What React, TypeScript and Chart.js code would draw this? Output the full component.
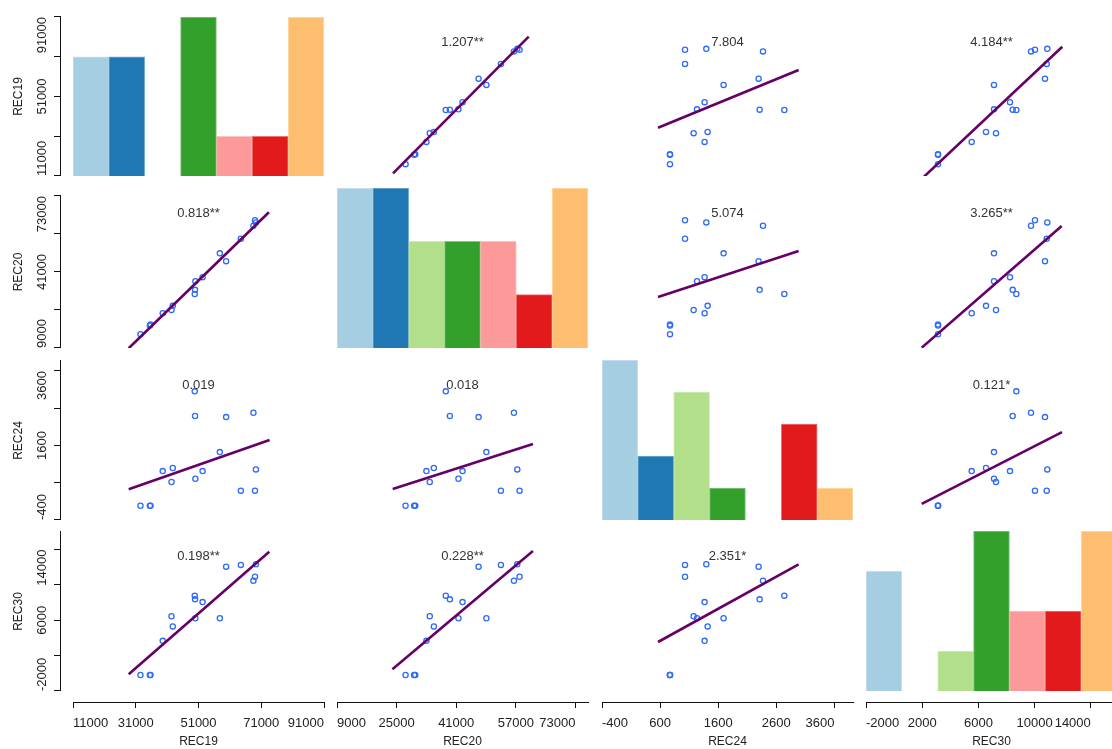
import React, { useEffect, useRef } from 'react';
import { Chart, registerables } from 'chart.js';

Chart.register(...registerables);

const FONT = '"Liberation Sans", Arial, Helvetica, sans-serif';
const TEXT_COLOR = '#222222';
const AXIS_COLOR = '#111111';
const LINE_COLOR = '#660066';
const POINT_COLOR = '#2F6BF5';

// ---- variable names ----
const VAR_NAMES = ['REC19', 'REC20', 'REC24', 'REC30'];

const REC19 = [32500, 35500, 35700, 39600, 42400, 42800, 49800, 49900, 50000, 52300, 59800, 57800, 64500, 68500, 69300, 69000];
const REC20 = [27400, 29700, 30000, 33000, 33900, 35000, 38200, 39300, 41600, 42700, 47000, 49100, 53000, 56500, 57400, 58000];
const REC24 = [770, 770, 770, 1366, 1177, 1418, 2738, 2313, 1235, 1366, 2295, 1693, 1029, 2371, 1395, 1029];
const REC30 = [3125, 3125, 3125, 5523, 7253, 6541, 8700, 8441, 7110, 8249, 10740, 7110, 10861, 9744, 10904, 10028];

// ---- diagonal histogram counts (7 bins) ----
const HIST19 = [3, 3, 0, 4, 1, 1, 4];
const HIST20 = [3, 3, 2, 2, 2, 1, 3];
const HIST24 = [5, 2, 4, 1, 0, 3, 1];
const HIST30 = [3, 0, 1, 4, 2, 2, 4];
const PAIRED = ['#A6CEE3', '#1F78B4', '#B2DF8A', '#33A02C', '#FB9A99', '#E31A1C', '#FDBF6F'];

// ---- axis ticks ----
const TICKS19 = [11000, 31000, 51000, 71000, 91000];
const TICKS20 = [9000, 25000, 41000, 57000, 73000];
const TICKS24 = [-400, 600, 1600, 2600, 3600];
const TICKS30 = [-2000, 2000, 6000, 10000, 14000];
const BOTTOM_LABELS19 = ['11000', '31000', '51000', '71000', '91000'];
const BOTTOM_LABELS20 = ['9000', '25000', '41000', '57000', '73000'];
const BOTTOM_LABELS24 = ['-400', '600', '1600', '2600', '3600'];
const BOTTOM_LABELS30 = ['-2000', '2000', '6000', '10000', '14000'];
const LEFT_LABELS19 = ['11000', '', '51000', '', '91000'];
const LEFT_LABELS20 = ['9000', '', '41000', '', '73000'];
const LEFT_LABELS24 = ['-400', '', '1600', '', '3600'];
const LEFT_LABELS30 = ['-2000', '', '6000', '', '14000'];

// ---- scale ranges ----
const XLIM19 = [11000, 91000];
const XLIM20 = [9000, 76380];
const XLIM24 = [-400, 3920];
const XLIM30 = [-2000, 15865];
const YLIM19 = [28717, 79475];
const YLIM20 = [23685, 66638];
const YLIM24 = [524, 3278];
const YLIM30 = [2000, 13244];
const LEFTLIM19 = [11000, 91000];
const LEFTLIM20 = [9000, 73000];
const LEFTLIM24 = [-400, 3868];
const LEFTLIM30 = [-2000, 15990];

// ---- coefficient labels ----
const COEF_ROW1 = ['', '1.207**', '7.804', '4.184**'];
const COEF_ROW2 = ['0.818**', '', '5.074', '3.265**'];
const COEF_ROW3 = ['0.019', '0.018', '', '0.121*'];
const COEF_ROW4 = ['0.198**', '0.228**', '2.351*', ''];

// ---- fitted line ends [x0, x1, y0, y1] ----
const FIT_ROW1 = [null, [24034, 60463, 29579, 73187], [564, 2984, 44136, 62556], [2128, 11972, 28494, 69995]];
const FIT_ROW2 = [[28750, 73442, 23604, 60114], null, [564, 2984, 37376, 49725], [1964, 11928, 23765, 56436]];
const FIT_ROW3 = [[28750, 73660, 1052, 1901], [23950, 61600, 1057, 1832], null, [1964, 11950, 800, 2038]];
const FIT_ROW4 = [[28750, 73560, 3174, 11790], [23870, 61600, 3526, 11839], [564, 2984, 5444, 10904], null];

// ---- tables built from the arrays above ----
const DATA = [REC19, REC20, REC24, REC30];
const HISTS = [HIST19, HIST20, HIST24, HIST30];
const TICKS = [TICKS19, TICKS20, TICKS24, TICKS30];
const BOTTOM_LABELS = [BOTTOM_LABELS19, BOTTOM_LABELS20, BOTTOM_LABELS24, BOTTOM_LABELS30];
const LEFT_LABELS = [LEFT_LABELS19, LEFT_LABELS20, LEFT_LABELS24, LEFT_LABELS30];
const XLIMS = [XLIM19, XLIM20, XLIM24, XLIM30];
const YLIMS = [YLIM19, YLIM20, YLIM24, YLIM30];
const LEFTLIMS = [LEFTLIM19, LEFTLIM20, LEFTLIM24, LEFTLIM30];
const COEFS = [COEF_ROW1, COEF_ROW2, COEF_ROW3, COEF_ROW4];
const FITS = [FIT_ROW1, FIT_ROW2, FIT_ROW3, FIT_ROW4];

// ---- layout ----
const COL_LEFT = [73, 337, 602, 866];
const COL_W = 251;
const ROW_TOP = [17, 188, 360, 531];
const ROW_H = [159, 160, 160, 160];
const LEFT_AXIS_TOP = [17, 196, 361, 532];
const LEFT_AXIS_LEN = [159, 152, 159, 159];
const AX_PAD = 12;
const LEFT_AXIS_THICK = 66;
const LEFT_SCALE_H = 60;
const BOTTOM_TOP = 691;
const BOTTOM_H = 58;
const BOTTOM_SCALE_H = 47;

const panelLabelPlugin = {
  id: 'panelLabel',
  afterDatasetsDraw(chart: any, _args: any, opts: any) {
    const text = opts && opts.text;
    if (!text) return;
    const { ctx, chartArea } = chart;
    ctx.save();
    ctx.font = `13px ${FONT}`;
    ctx.fillStyle = '#333333';
    ctx.textAlign = 'center';
    ctx.textBaseline = 'middle';
    ctx.fillText(text, (chartArea.left + chartArea.right) / 2, chartArea.top + 25);
    ctx.restore();
  },
};

const baseOptions = {
  animation: false as const,
  responsive: false,
  devicePixelRatio: 1,
  events: [] as any[],
};

function ChartCanvas({ config, width, height, style }: { config: any; width: number; height: number; style: any }) {
  const ref = useRef<HTMLCanvasElement>(null);
  useEffect(() => {
    const chart = new Chart(ref.current as HTMLCanvasElement, config);
    return () => chart.destroy();
  }, []);
  return <canvas ref={ref} width={width} height={height} style={{ position: 'absolute', width, height, ...style }} />;
}

function scatterConfig(r: number, c: number) {
  const xs = DATA[c];
  const ys = DATA[r];
  const fit = FITS[r][c] as number[];
  return {
    type: 'scatter',
    data: {
      datasets: [
        {
          data: [{ x: fit[0], y: fit[2] }, { x: fit[1], y: fit[3] }],
          showLine: true,
          borderColor: LINE_COLOR,
          borderWidth: 2.6,
          pointRadius: 0,
          order: 0,
        },
        {
          data: xs.map((x, i) => ({ x, y: ys[i] })),
          pointRadius: 2.6,
          pointBorderWidth: 1.3,
          pointBorderColor: POINT_COLOR,
          pointBackgroundColor: 'rgba(0,0,0,0)',
          borderColor: POINT_COLOR,
          backgroundColor: 'rgba(0,0,0,0)',
          order: 1,
        },
      ],
    },
    options: {
      ...baseOptions,
      layout: { padding: 0, autoPadding: false },
      plugins: { legend: { display: false }, tooltip: { enabled: false }, panelLabel: { text: COEFS[r][c] } },
      scales: {
        x: { type: 'linear', display: false, min: XLIMS[c][0], max: XLIMS[c][1] },
        y: { type: 'linear', display: false, min: YLIMS[r][0], max: YLIMS[r][1] },
      },
    },
    plugins: [panelLabelPlugin],
  };
}

function histConfig(i: number) {
  const counts = HISTS[i];
  return {
    type: 'bar',
    data: {
      labels: counts.map((_, k) => String(k + 1)),
      datasets: [
        {
          data: counts,
          backgroundColor: PAIRED,
          borderColor: PAIRED.map((col) => col + '99'),
          borderWidth: 1,
          barPercentage: 1,
          categoryPercentage: 1,
        },
      ],
    },
    options: {
      ...baseOptions,
      layout: { padding: 0, autoPadding: false },
      plugins: { legend: { display: false }, tooltip: { enabled: false } },
      scales: {
        x: { display: false },
        y: { display: false, min: 0, max: Math.max(...counts) },
      },
    },
  };
}

function axisConfig(ticks: number[], labels: string[], lim: number[], title: string, position: 'top' | 'bottom') {
  const isTop = position === 'top';
  return {
    type: 'scatter',
    data: { datasets: [] },
    options: {
      ...baseOptions,
      layout: { padding: { left: AX_PAD, right: AX_PAD, top: 0, bottom: 0 }, autoPadding: false },
      plugins: { legend: { display: false }, tooltip: { enabled: false } },
      scales: {
        x: {
          type: 'linear',
          position,
          min: lim[0],
          max: lim[1],
          bounds: 'data',
          afterBuildTicks: (s: any) => {
            s.ticks = ticks.map((v) => ({ value: v }));
          },
          afterFit: (s: any) => {
            s.height = isTop ? LEFT_SCALE_H : BOTTOM_SCALE_H;
          },
          grid: {
            display: true,
            drawOnChartArea: false,
            drawTicks: true,
            tickLength: 6,
            color: AXIS_COLOR,
            tickColor: AXIS_COLOR,
            lineWidth: 1,
          },
          border: { display: true, color: AXIS_COLOR, width: 1 },
          ticks: {
            autoSkip: false,
            maxRotation: 0,
            minRotation: 0,
            align: 'inner',
            padding: isTop ? 4 : 8,
            color: TEXT_COLOR,
            font: { family: FONT, size: 13 },
            callback: (_v: any, i: number) => labels[i],
          },
          title: {
            display: true,
            text: title,
            color: TEXT_COLOR,
            font: { family: FONT, size: 12 },
            padding: isTop ? { top: 11, bottom: 0 } : { top: 0, bottom: 0 },
          },
        },
        y: { display: false },
      },
    },
  };
}

export default function App() {
  const items: any[] = [];
  for (let r = 0; r < 4; r++) {
    for (let c = 0; c < 4; c++) {
      const style = { left: COL_LEFT[c], top: ROW_TOP[r] };
      const cfg = r === c ? histConfig(r) : scatterConfig(r, c);
      items.push(<ChartCanvas key={`p${r}${c}`} config={cfg} width={COL_W} height={ROW_H[r]} style={style} />);
    }
  }
  for (let c = 0; c < 4; c++) {
    const w = COL_W + 2 * AX_PAD;
    items.push(
      <ChartCanvas
        key={`bx${c}`}
        config={axisConfig(TICKS[c], BOTTOM_LABELS[c], XLIMS[c], VAR_NAMES[c], 'bottom')}
        width={w}
        height={BOTTOM_H}
        style={{ left: COL_LEFT[c] - AX_PAD, top: BOTTOM_TOP }}
      />
    );
  }
  for (let r = 0; r < 4; r++) {
    const len = LEFT_AXIS_LEN[r] + 2 * AX_PAD;
    const top = LEFT_AXIS_TOP[r] - AX_PAD;
    items.push(
      <ChartCanvas
        key={`ly${r}`}
        config={axisConfig(TICKS[r], LEFT_LABELS[r], LEFTLIMS[r], VAR_NAMES[r], 'top')}
        width={len}
        height={LEFT_AXIS_THICK}
        style={{ left: 0, top: top + len, transformOrigin: '0 0', transform: 'rotate(-90deg)' }}
      />
    );
  }
  return (
    <div style={{ position: 'fixed', left: 0, top: 0, width: 1112, height: 749, overflow: 'hidden', background: '#ffffff' }}>
      {items}
    </div>
  );
}
